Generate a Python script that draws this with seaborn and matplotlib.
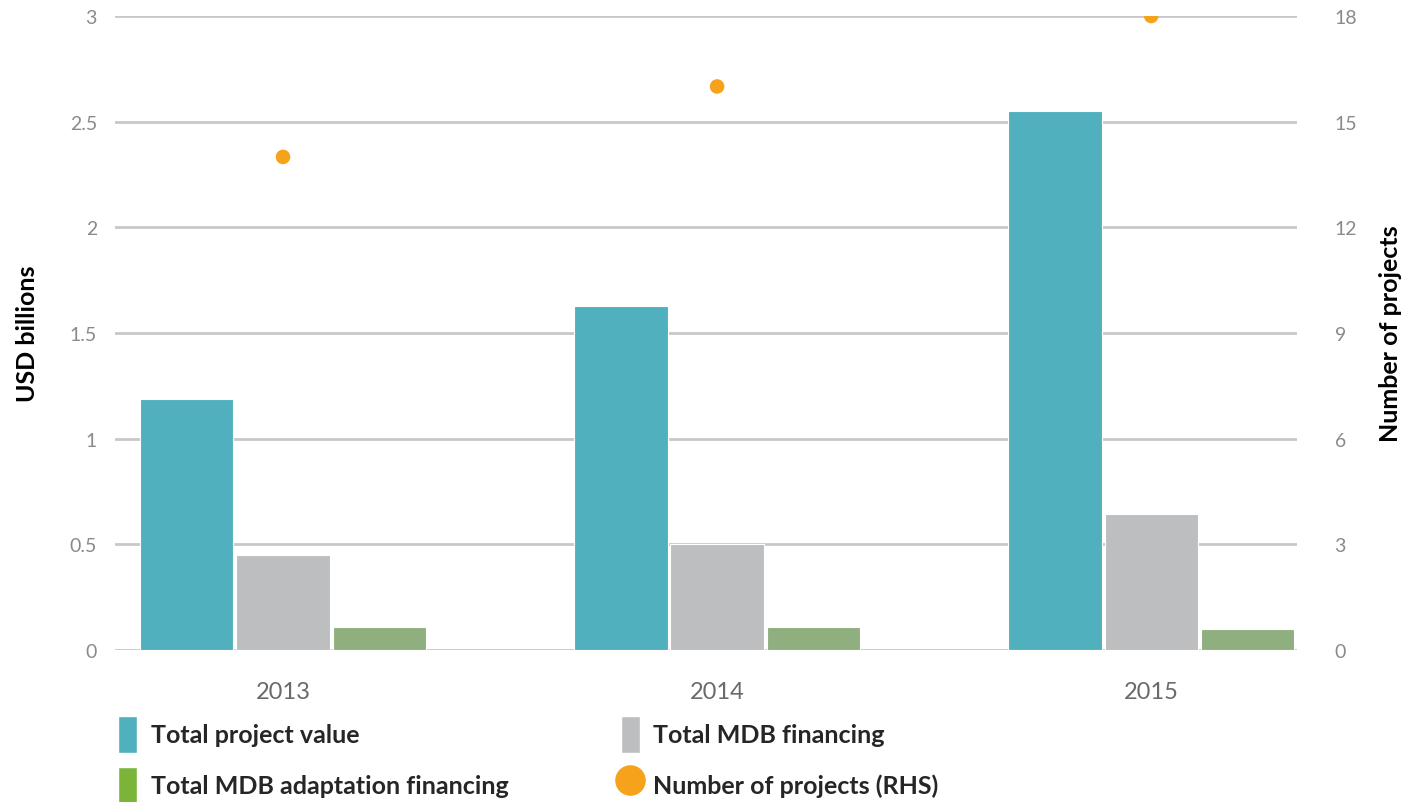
import pandas as pd
import matplotlib
matplotlib.use('Agg')
import matplotlib.pyplot as plt
import seaborn as sns
from matplotlib.patches import Patch
from matplotlib.lines import Line2D

# data
years = ['2013', '2014', '2015']
total_project_value = [1.19, 1.63, 2.55]
total_mdb_financing = [0.45, 0.50, 0.645]
total_mdb_adaptation = [0.11, 0.11, 0.10]
number_of_projects = [14, 16, 18]

series_names = ['Total project value', 'Total MDB financing', 'Total MDB adaptation financing']
bar_colors = ['#50b0bd', '#bdbec0', '#8fb07e']
legend_green = '#7ab53a'
dot_color = '#f7a21b'

df = pd.DataFrame({
    'Year': years * 3,
    'Series': [s for s in series_names for _ in years],
    'Value': total_project_value + total_mdb_financing + total_mdb_adaptation,
})
dots = pd.DataFrame({'Year': years, 'Projects': number_of_projects})

sns.set_theme(style="white")
plt.rcParams['font.family'] = ['Lato', 'DejaVu Sans']

fig = plt.figure(figsize=(14.06, 8.03), dpi=100)
ax = fig.add_axes([0.0818, 0.1893, 0.8407, 0.7895])

sns.barplot(data=df, x='Year', y='Value', hue='Series', palette=bar_colors,
            width=0.665, gap=0.03, ax=ax, legend=False, saturation=1,
            edgecolor='white', linewidth=0.8)

ax.set_ylim(0, 3)
ax.set_xlim(-0.387, 2.336)
ax.set_yticks([0, 0.5, 1, 1.5, 2, 2.5, 3])
ax.set_yticklabels(['0', '0.5', '1', '1.5', '2', '2.5', '3'])
ax.yaxis.grid(True, color='#c8c8c8', linewidth=2)
ax.set_axisbelow(True)
for s in ax.spines.values():
    s.set_visible(False)
ax.tick_params(axis='y', length=0, pad=13, labelsize=14, labelcolor='#8a8a8a')
ax.tick_params(axis='x', length=0, pad=22, labelsize=17, labelcolor='#6a6a6a')
ax.set_xlabel('')
ax.set_ylabel('USD billions', fontsize=18, fontweight='bold', color='black')
ax.yaxis.set_label_coords(-0.064, 0.5)

ax2 = ax.twinx()
sns.scatterplot(data=dots, x='Year', y='Projects', color=dot_color, s=110,
                edgecolor='none', ax=ax2, zorder=5)
ax2.set_ylim(0, 18)
ax2.set_yticks([0, 3, 6, 9, 12, 15, 18])
for s in ax2.spines.values():
    s.set_visible(False)
ax2.tick_params(axis='y', length=0, pad=27, labelsize=14, labelcolor='#8a8a8a')
ax2.set_ylabel('Number of projects', fontsize=18, fontweight='bold', color='black',
               rotation=90)
ax2.yaxis.set_label_coords(1.069, 0.5)

handles = [
    Patch(facecolor=bar_colors[0], label='Total project value'),
    Patch(facecolor=legend_green, label='Total MDB adaptation financing'),
    Patch(facecolor=bar_colors[1], label='Total MDB financing'),
    Line2D([], [], marker='o', linestyle='none', markersize=22,
           markerfacecolor=dot_color, markeredgecolor='none',
           label='Number of projects (RHS)'),
]
fig.legend(handles=handles, ncol=2, loc='lower left', bbox_to_anchor=(0.068, -0.03),
           frameon=False, prop={'size': 18, 'weight': 'bold'},
           handlelength=0.75, handleheight=1.9, handletextpad=0.55,
           columnspacing=4.5, labelspacing=0.55)

fig.savefig('out.png', dpi=100)
